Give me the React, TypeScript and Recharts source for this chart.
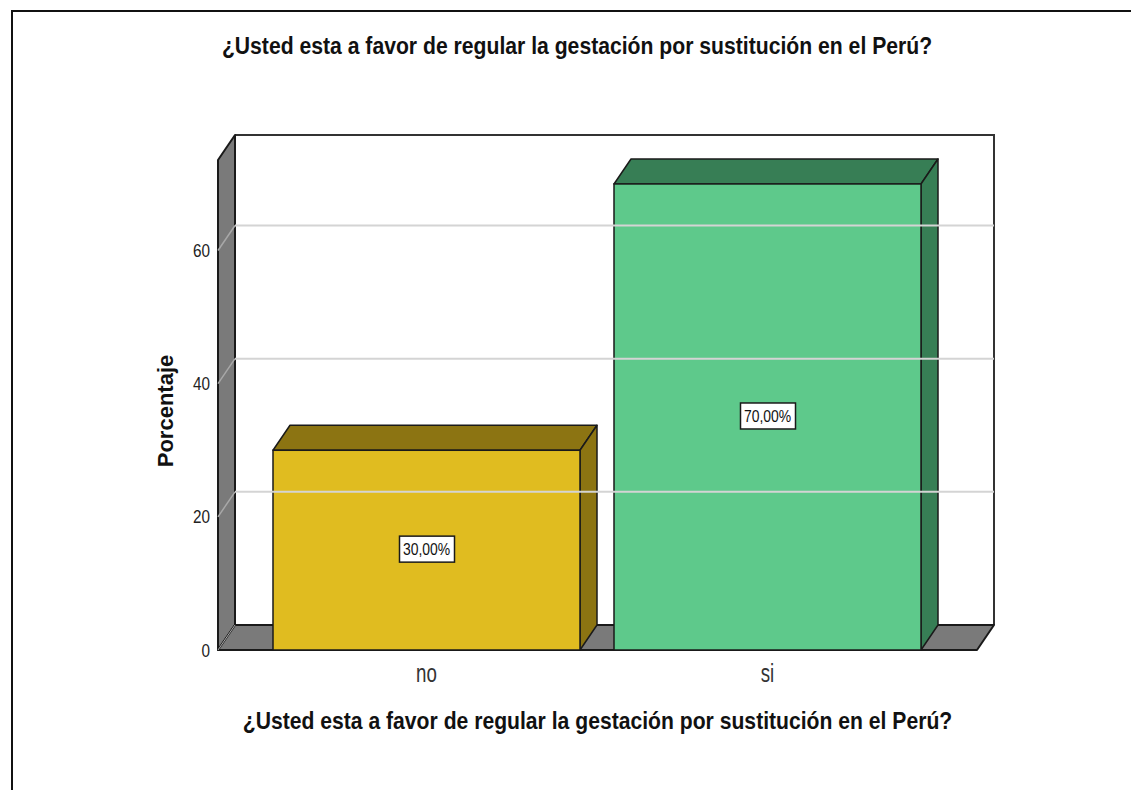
import React from "react"
import { Bar, BarChart, LabelList, ReferenceArea, ReferenceLine, XAxis, YAxis } from "recharts"

const categories = ["no", "si"]
const percentages = [30, 70]
const frontColors = ["#e0bc20", "#5ec98b"]
const sideColors = ["#8c7412", "#377e55"]
const yTicks = [0, 20, 40, 60]
const gridValues = [20, 40, 60]

const title = "¿Usted esta a favor de regular la gestación por sustitución en el Perú?"
const yTitle = "Porcentaje"

const data = categories.map((c, i) => ({ name: c, value: percentages[i], idx: i }))

const DX = 17
const DY = 25
const PAD_L = 38
const PAD_R = 39
const FONT = "'Liberation Sans', Arial, sans-serif"
const EDGE = "#1a1a1a"

// text squeezed horizontally, the way the source renders it
function SText(props: any) {
  const { x, y, sx = 1, children, ...rest } = props
  return (
    <text transform={`translate(${x},${y}) scale(${sx},1)`} fontFamily={FONT} {...rest}>
      {children}
    </text>
  )
}

function Bar3D(props: any) {
  const { x, y, width: w, height: h, payload } = props
  const front = frontColors[payload.idx]
  const side = sideColors[payload.idx]
  return (
    <g>
      <polygon
        points={`${x},${y} ${x + DX},${y - DY} ${x + w + DX},${y - DY} ${x + w},${y}`}
        fill={side}
        stroke={EDGE}
        strokeWidth={1.5}
        strokeLinejoin="round"
      />
      <polygon
        points={`${x + w},${y} ${x + w + DX},${y - DY} ${x + w + DX},${y + h - DY} ${x + w},${y + h}`}
        fill={side}
        stroke={EDGE}
        strokeWidth={1.5}
        strokeLinejoin="round"
      />
      <rect x={x} y={y} width={w} height={h} fill={front} stroke={EDGE} strokeWidth={1.5} />
    </g>
  )
}

function Walls(props: any) {
  const x = props.x - PAD_L
  const w = props.width + PAD_L + PAD_R
  const { y, height: h } = props
  const b = y + h
  return (
    <g>
      <rect x={x + DX} y={y - DY} width={w} height={h} fill="#fff" />
      <polyline
        points={`${x + DX},${y - DY} ${x + w + DX},${y - DY} ${x + w + DX},${b - DY}`}
        fill="none"
        stroke="#333"
        strokeWidth={2}
      />
      <polygon
        points={`${x},${y} ${x + DX},${y - DY} ${x + DX},${b - DY} ${x},${b}`}
        fill="#7a7a7a"
        stroke={EDGE}
        strokeWidth={2}
        strokeLinejoin="round"
      />
      <polygon
        points={`${x},${b} ${x + DX},${b - DY} ${x + w + DX},${b - DY} ${x + w},${b}`}
        fill="#7a7a7a"
        stroke={EDGE}
        strokeWidth={2}
        strokeLinejoin="round"
      />
      <line x1={x} y1={b} x2={x + DX} y2={b - DY} stroke="#aaa" strokeWidth={1} />
    </g>
  )
}

function GridLine3D(props: any) {
  const { x1, y1, x2, y2 } = props
  return (
    <g>
      <line x1={x1 + DX} y1={y1 - DY} x2={x2 + DX} y2={y2 - DY} stroke="#d4d4d4" strokeWidth={2} />
      <line x1={x1} y1={y1} x2={x1 + DX} y2={y1 - DY} stroke="#a8a8a8" strokeWidth={1.5} />
    </g>
  )
}

function ValueBox(props: any) {
  const { x, y, width, height, value } = props
  const cx = x + width / 2
  const cy = y + height / 2 - 1
  return (
    <g>
      <rect x={cx - 27} y={cy - 13} width={55} height={26} fill="#fff" stroke={EDGE} strokeWidth={1.5} />
      <SText x={cx} y={cy + 6} sx={0.87} textAnchor="middle" fontSize={16} fill="#111">
        {`${value},00%`}
      </SText>
    </g>
  )
}

function XTick(props: any) {
  const { x, y, payload } = props
  return (
    <SText x={x} y={y + 32} sx={0.72} textAnchor="middle" fontSize={26} fill="#333">
      {payload.value}
    </SText>
  )
}

function YTick(props: any) {
  const { y, payload } = props
  return (
    <SText x={210} y={y + 6.5} sx={0.85} textAnchor="end" fontSize={18} fill="#222">
      {payload.value}
    </SText>
  )
}

function XTitle(props: any) {
  const vb = props.viewBox
  return (
    <SText x={vb.x + vb.width / 2} y={vb.y + 79} sx={0.92} textAnchor="middle" fontSize={23} fontWeight="bold" fill="#111">
      {title}
    </SText>
  )
}

function YTitle() {
  return (
    <text
      x={173}
      y={411}
      transform="rotate(-90, 173, 411)"
      textAnchor="middle"
      fontFamily={FONT}
      fontSize={22}
      fontWeight="bold"
      fill="#111"
    >
      {yTitle}
    </text>
  )
}

export default function App() {
  return (
    <div
      style={{
        position: "absolute",
        left: 0,
        top: 0,
        width: 1131,
        height: 790,
        overflow: "hidden",
        background: "#fff",
      }}
    >
      <div
        style={{
          position: "absolute",
          left: 11,
          top: 10,
          width: 1300,
          height: 1000,
          border: "2px solid #111",
        }}
      />
      <div
        style={{
          position: "absolute",
          left: 0,
          top: 33,
          width: 1154,
          textAlign: "center",
          fontFamily: FONT,
          fontWeight: "bold",
          fontSize: 23,
          color: "#111",
          transform: "scaleX(0.92)",
          transformOrigin: "577px 0",
          whiteSpace: "nowrap",
        }}
      >
        {title}
      </div>
      <div style={{ position: "absolute", left: 0, top: 0 }}>
        <BarChart width={1131} height={790} data={data} margin={{ top: 160, right: 154, bottom: 0, left: 0 }}>
          <XAxis
            dataKey="name"
            height={140}
            padding={{ left: PAD_L, right: PAD_R }}
            axisLine={false}
            tickLine={false}
            tickSize={0}
            tickMargin={0}
            tick={<XTick />}
            label={<XTitle />}
          />
          <YAxis
            width={218}
            domain={[0, 73.6]}
            ticks={yTicks}
            axisLine={false}
            tickLine={false}
            tick={<YTick />}
            label={<YTitle />}
          />
          <ReferenceArea y1={0} y2={73.6} shape={<Walls />} ifOverflow="visible" />
          {gridValues.map((v) => (
            <ReferenceLine key={v} y={v} shape={<GridLine3D />} ifOverflow="visible" />
          ))}
          <Bar dataKey="value" barSize={307} shape={<Bar3D />} isAnimationActive={false}>
            <LabelList dataKey="value" content={<ValueBox />} />
          </Bar>
        </BarChart>
      </div>
    </div>
  )
}
